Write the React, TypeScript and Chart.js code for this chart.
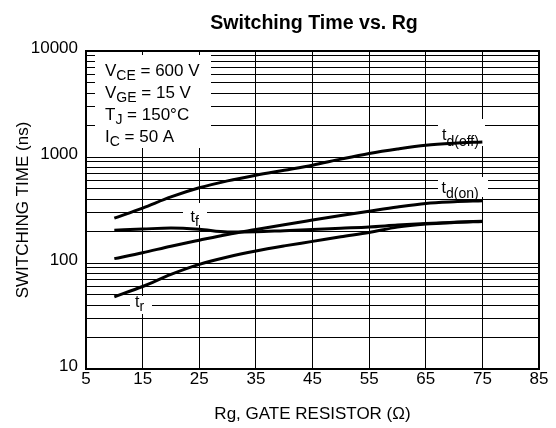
import React, { useEffect, useRef } from "react";
import { Chart, registerables } from "chart.js";

Chart.register(...registerables);

// ---- data ----
const rgOhms = [10, 15, 20, 25, 30, 35, 40, 45, 50, 55, 60, 65, 70, 75];
const tdOffNs = [265, 330, 420, 512, 595, 673, 750, 837, 955, 1079, 1190, 1291, 1350, 1387];
const tdOnNs = [110, 125, 144, 164, 186, 207, 230, 254, 280, 308, 338, 365, 378, 386];
const tfNs = [204, 209, 214, 208, 196, 197, 202, 207, 213, 219, 228, 236, 242, 248];
const trNs = [48, 60, 78, 97, 114, 130, 145, 160, 177, 194, 218, 233, 241, 246];

const xTickValues = [5, 15, 25, 35, 45, 55, 65, 75, 85];
const yMajorTicks = [10, 100, 1000, 10000];
const yMinorMultipliers = [1, 2, 3, 4, 5, 6, 7, 8, 9];

const chartTitle = "Switching Time vs. Rg";
const xAxisTitle = "Rg, GATE RESISTOR (\u03A9)";
const yAxisTitle = "SWITCHING TIME (ns)";
const conditionLines = [
  ["V", "CE", " = 600 V"],
  ["V", "GE", " = 15 V"],
  ["T", "J", " = 150\u00B0C"],
  ["I", "C", " = 50 A"],
];
const curveLabelMain = ["t", "t", "t", "t"];
const curveLabelSub = ["d(off)", "d(on)", "f", "r"];

const FONT = "'Liberation Sans', Arial, Helvetica, sans-serif";

const overlayPlugin = {
  id: "overlay",
  beforeDatasetsDraw(chart: any) {
    const { ctx, chartArea } = chart;
    const L = chartArea.left;
    const T = chartArea.top;
    ctx.save();
    // conditions box
    ctx.fillStyle = "#fff";
    ctx.fillRect(L + 9, T + 4, 116, 93);
    ctx.fillStyle = "#000";
    ctx.textBaseline = "alphabetic";
    ctx.textAlign = "left";
    conditionLines.forEach((ln, i) => {
      let x = L + 19;
      const y = T + 25 + i * 22;
      ctx.font = `17px ${FONT}`;
      ctx.fillText(ln[0], x, y);
      x += ctx.measureText(ln[0]).width;
      ctx.font = `14px ${FONT}`;
      ctx.fillText(ln[1], x, y + 3.5);
      x += ctx.measureText(ln[1]).width;
      ctx.font = `17px ${FONT}`;
      ctx.fillText(ln[2], x, y);
    });
    // curve labels: [boxX, boxY, boxW, boxH, textX, baseline, subDrop]
    const boxes = [
      [352, 68, 47, 27, 356, 89, 5.5],
      [352, 126, 50, 20, 355.5, 142, 5],
      [97, 152, 24, 22, 104.5, 171, 3.5],
      [44, 245, 22, 18, 49, 256, 4],
    ];
    boxes.forEach((b, i) => {
      ctx.fillStyle = "#fff";
      ctx.fillRect(L + b[0], T + b[1], b[2], b[3]);
      ctx.fillStyle = "#000";
      ctx.font = `16px ${FONT}`;
      const tx = L + b[4];
      ctx.fillText(curveLabelMain[i], tx, T + b[5]);
      const w = ctx.measureText(curveLabelMain[i]).width;
      ctx.font = `14px ${FONT}`;
      ctx.fillText(curveLabelSub[i], tx + w, T + b[5] + b[6]);
    });
    ctx.restore();
  },
  afterDraw(chart: any) {
    const { ctx, chartArea } = chart;
    ctx.save();
    ctx.strokeStyle = "#000";
    ctx.lineWidth = 2;
    ctx.strokeRect(
      chartArea.left,
      chartArea.top,
      chartArea.right - chartArea.left,
      chartArea.bottom - chartArea.top
    );
    ctx.fillStyle = "#000";
    ctx.font = `bold 19.6px ${FONT}`;
    ctx.textAlign = "center";
    ctx.textBaseline = "alphabetic";
    ctx.fillText(chartTitle, (chartArea.left + chartArea.right) / 2 + 1.5, 28.5);
    ctx.restore();
  },
};

export default function App() {
  const canvasRef = useRef<HTMLCanvasElement | null>(null);

  useEffect(() => {
    if (!canvasRef.current) return;
    Chart.defaults.font.family = FONT;
    Chart.defaults.color = "#000";

    const mk = (label: string, data: number[]) => ({
      label,
      data: rgOhms.map((x, i) => ({ x, y: data[i] })),
      borderColor: "#000",
      backgroundColor: "#000",
      borderWidth: 3,
      pointRadius: 0,
      cubicInterpolationMode: "monotone" as const,
      fill: false,
    });

    const gridValues: number[] = [];
    for (let d = 0; d < yMajorTicks.length - 1; d++) {
      yMinorMultipliers.forEach((m) => gridValues.push(yMajorTicks[d] * m));
    }
    gridValues.push(yMajorTicks[yMajorTicks.length - 1]);

    const chart = new Chart(canvasRef.current, {
      type: "line",
      data: {
        datasets: [
          mk("td(off)", tdOffNs),
          mk("td(on)", tdOnNs),
          mk("tf", tfNs),
          mk("tr", trNs),
        ],
      },
      options: {
        responsive: false,
        animation: false,
        devicePixelRatio: 1,
        layout: { padding: { top: 51, right: 17, left: 0, bottom: 0 } },
        plugins: {
          legend: { display: false },
          title: { display: false },
          tooltip: { enabled: false },
        },
        scales: {
          x: {
            type: "linear",
            min: 5,
            max: 85,
            afterBuildTicks: (scale: any) => {
              scale.ticks = xTickValues.map((v) => ({ value: v }));
            },
            afterFit: (scale: any) => {
              scale.height = 59;
            },
            ticks: {
              autoSkip: false,
              maxRotation: 0,
              padding: 0,
              font: { size: 17 },
              color: "#000",
            },
            grid: { color: "#000", lineWidth: 1, drawTicks: false },
            border: { display: false },
            title: {
              display: true,
              text: xAxisTitle,
              font: { size: 17 },
              color: "#000",
              padding: { top: 0, bottom: 3 },
            },
          },
          y: {
            type: "logarithmic",
            min: 10,
            max: 10000,
            afterBuildTicks: (scale: any) => {
              scale.ticks = gridValues.map((v) => ({ value: v }));
            },
            afterFit: (scale: any) => {
              scale.width = 86;
            },
            ticks: {
              autoSkip: false,
              padding: 8,
              labelOffset: -3,
              font: { size: 17 },
              color: "#000",
              callback: (v: any) => (yMajorTicks.includes(Number(v)) ? String(v) : ""),
            },
            grid: { color: "#000", lineWidth: 1, drawTicks: false },
            border: { display: false },
            title: {
              display: true,
              text: yAxisTitle,
              font: { size: 17 },
              color: "#000",
              padding: { top: 13, bottom: 0 },
            },
          },
        },
      },
      plugins: [overlayPlugin],
    } as any);

    return () => chart.destroy();
  }, []);

  return (
    <div
      style={{
        position: "fixed",
        left: 0,
        top: 0,
        width: 556,
        height: 428,
        background: "#fff",
      }}
    >
      <canvas ref={canvasRef} width={556} height={428} style={{ display: "block" }} />
    </div>
  );
}
